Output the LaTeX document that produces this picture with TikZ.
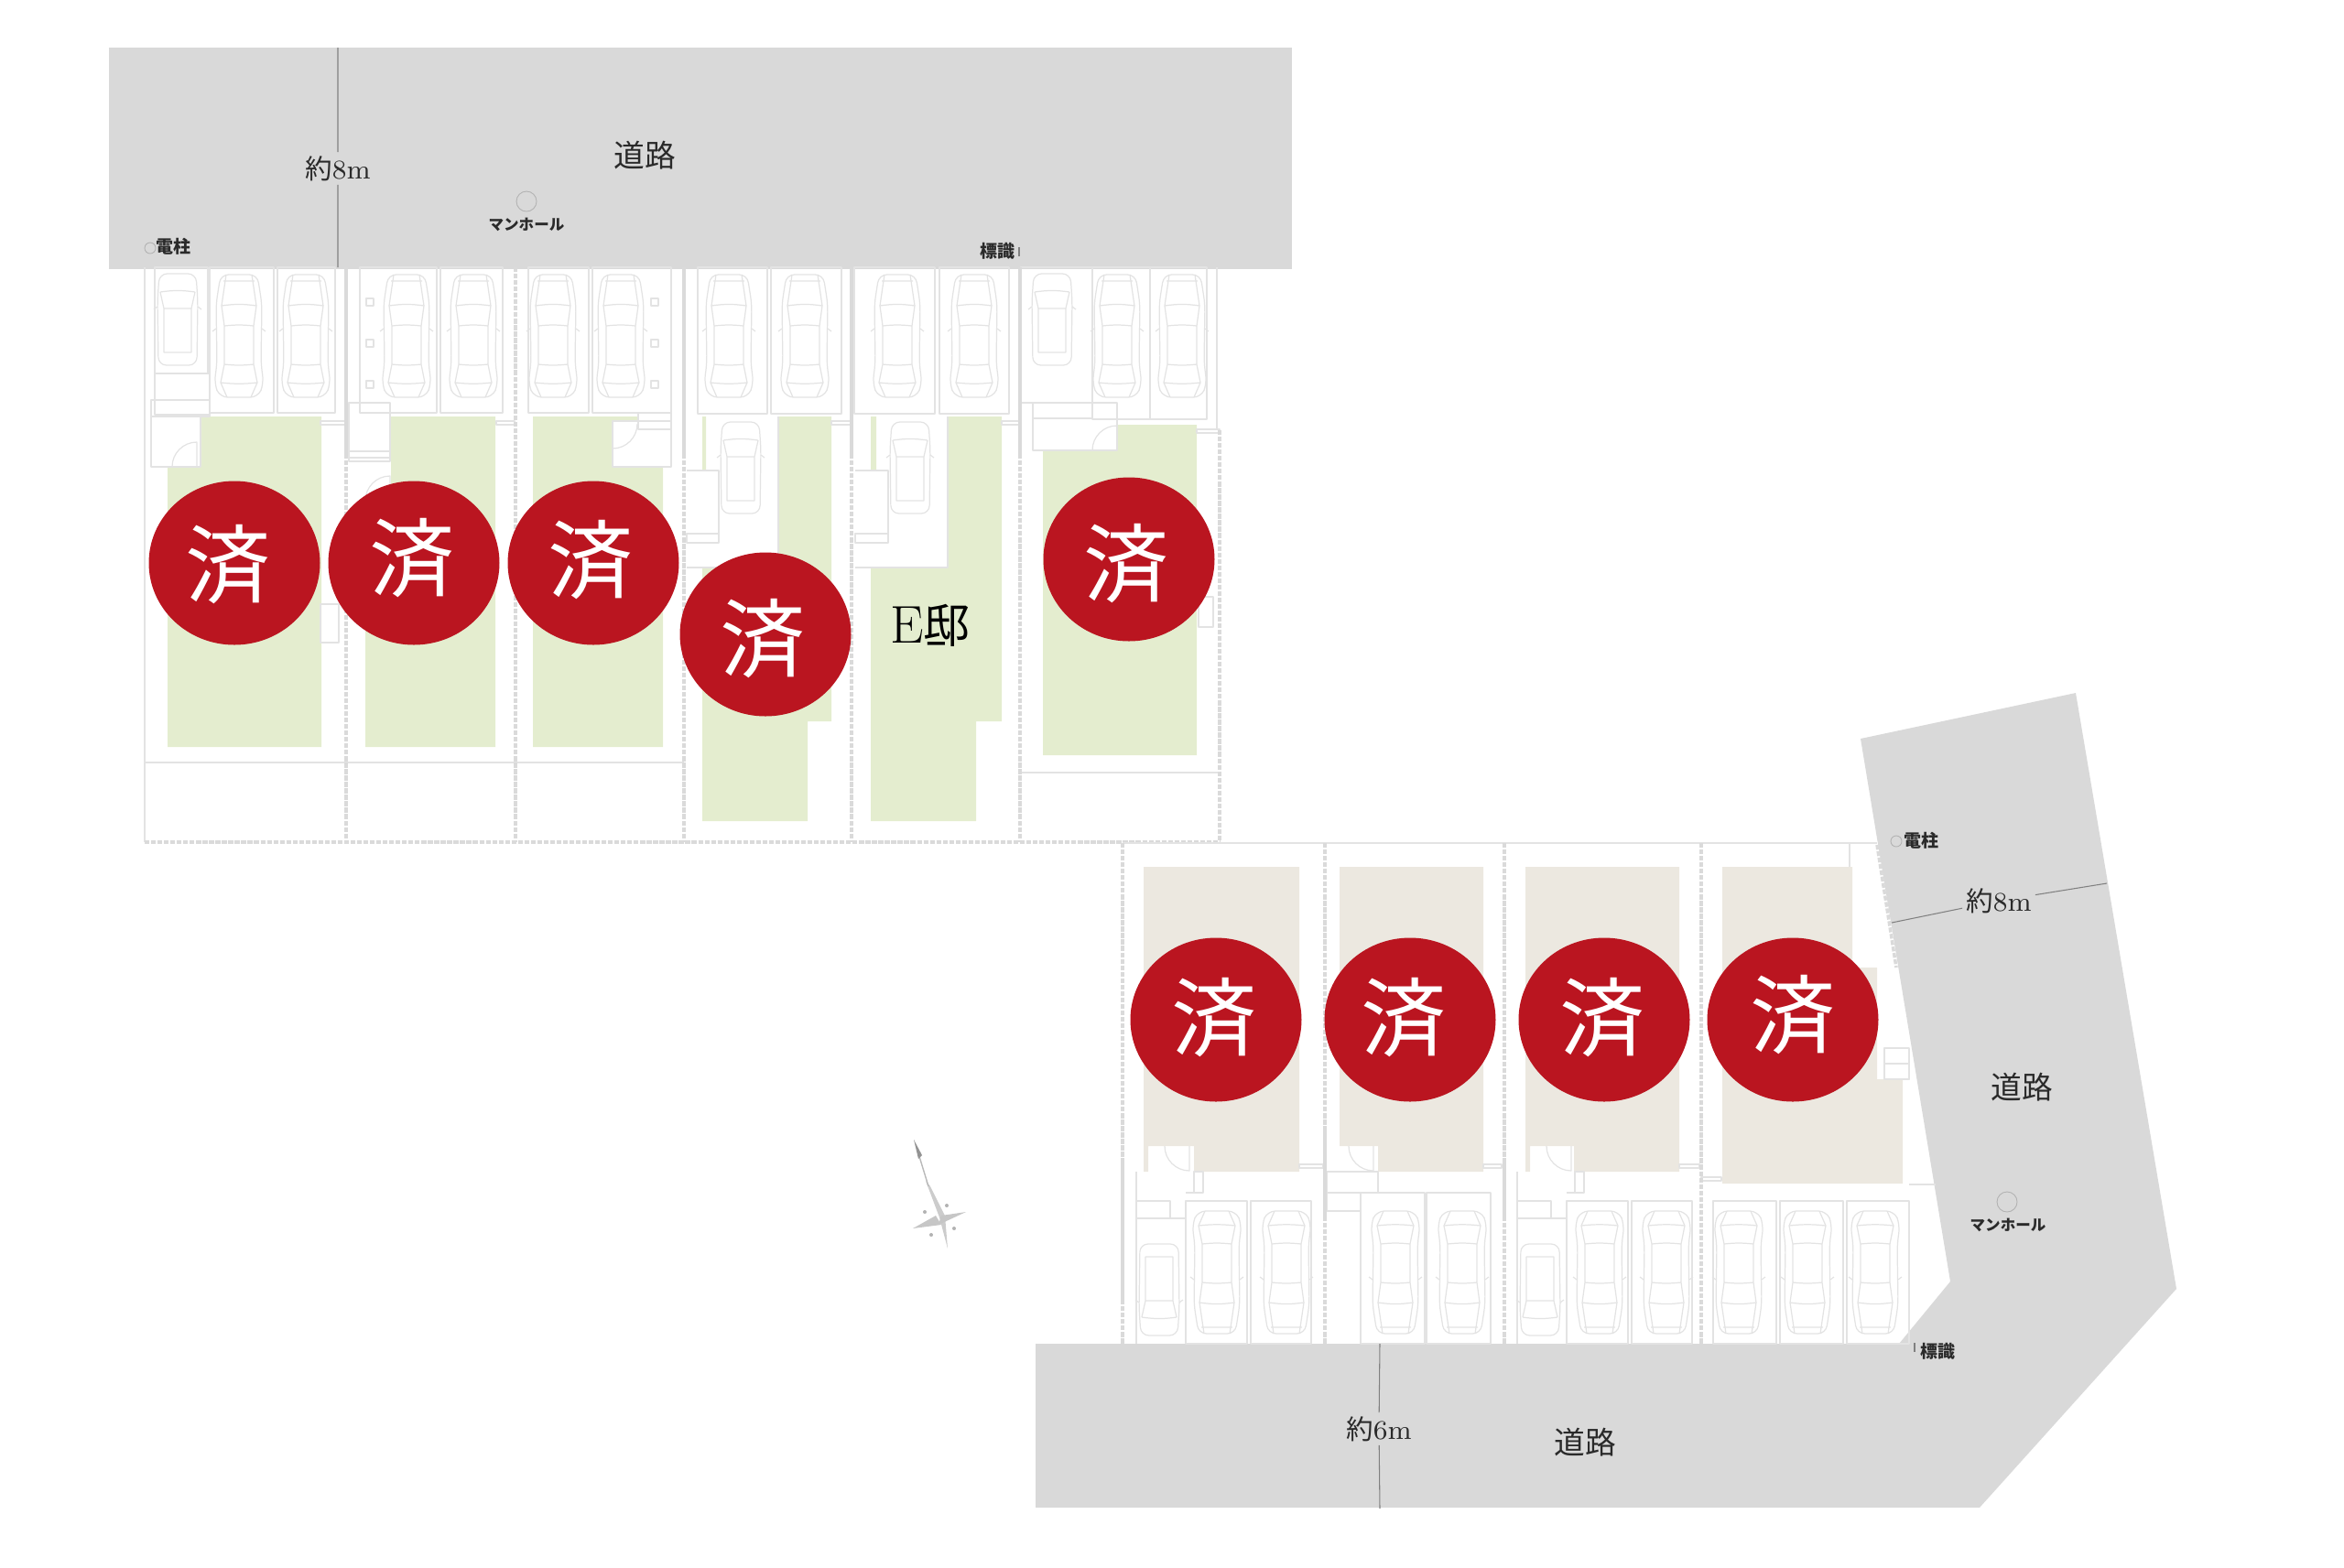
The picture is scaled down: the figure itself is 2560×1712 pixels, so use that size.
\documentclass[tikz,border=0pt]{standalone}
\usepackage{fontspec}
\usetikzlibrary{shapes.geometric}
\newfontfamily\cjk{Noto Sans CJK JP}
\definecolor{roadgray}{HTML}{D9D9D9}
\definecolor{lotgreen}{HTML}{E4EDCF}
\definecolor{lotbeige}{HTML}{ECE8E0}
\definecolor{soldred}{HTML}{BA1520}
\definecolor{planline}{HTML}{E3E3E3}
\definecolor{fenceline}{HTML}{DADADA}
\definecolor{inkgray}{HTML}{2A2A2A}
\tikzset{
  planstroke/.style={draw=planline,line width=.35pt},
  fence/.style={draw=fenceline,line width=1pt,dash pattern=on 1.5pt off .5pt},
  fencesolid/.style={draw=fenceline,line width=1pt},
  soldmark/.style={ellipse,fill=soldred,inner sep=0pt,minimum width=18.7mm,minimum height=17.9mm},
  soldglyph/.style={inner sep=0pt,text=white,font=\cjk\fontsize{26.5pt}{27pt}\selectfont},
  roadlabel/.style={inner sep=1pt,text=inkgray,font=\cjk\fontsize{9.6pt}{11pt}\selectfont},
  widthlabel/.style={fill=roadgray,inner sep=1pt,text=inkgray,font=\fontsize{8.4pt}{10pt}\selectfont},
  smalltag/.style={inner sep=0pt,text=inkgray,font=\cjk\bfseries\fontsize{5.4pt}{6pt}\selectfont},
  holetag/.style={smalltag,font=\cjk\bfseries\fontsize{4.7pt}{6pt}\selectfont},
  sedan/.pic={
    \draw[planstroke,rounded corners=2.5pt] (-20,-67)--(20,-67)--(25,-35)--(24,30)--(27,52)--(21,67)--(-21,67)--(-27,52)--(-24,30)--(-25,-35)--cycle;
    \draw[planstroke] (-14,-67)--(-19,-33)--(-16,-11)--(-16,31)--(-20,51)--(-13,67) (14,-67)--(19,-33)--(16,-11)--(16,31)--(20,51)--(13,67);
    \draw[planstroke] (-19,-33) to[bend left=8] (19,-33) (-16,-11) to[bend left=6] (16,-11) (-16,31) to[bend right=6] (16,31) (-20,51) to[bend right=6] (20,51);
    \draw[planstroke] (-25,-8)--(-29,-5) (25,-8)--(29,-5) (-17,-60)--(17,-60);
  },
  keicar/.pic={
    \draw[planstroke,rounded corners=2.5pt] (-20,-50)--(20,-50)--(22,-20)--(21,50)--(-21,50)--(-22,-20)--cycle;
    \draw[planstroke] (-19,-30) to[bend left=8] (19,-30) (-15,-12)--(15,-12)--(15,36)--(-15,36)--cycle (-15,-12)--(-19,-30) (15,-12)--(19,-30);
    \draw[planstroke] (-22,-14)--(-26,-11) (22,-14)--(26,-11);
  },
  doorleaf/.pic={
    \draw[planstroke] (0,0)--(0,-27) arc[start angle=270,end angle=180,radius=27];
  },
}
\begin{document}
\begin{tikzpicture}[x=.1mm,y=-.1mm,line join=round]
\useasboundingbox (0,0) rectangle (2560,1712);
% roads
\path
(119,52)coordinate(RA1)
(1411,294)coordinate(RA2)
(369,52)coordinate(WA1)
(369,292)coordinate(WA2)
(1507,1468)coordinate(WB1)
(1507,1648)coordinate(WB2)
(2066,1008)coordinate(WC1)
(2301,965)coordinate(WC2)
;
\fill[roadgray] (RA1) rectangle (RA2);
\fill[roadgray] (2032,807)--(2267,757)--(2377,1408)--(2162,1647)--(1131,1647)--(1131,1468)--(2074,1468)--(2130,1400)--cycle;
% upper lots
\fill[lotgreen] (219,455)--(351,455)--(351,816)--(183,816)--(183,510)--(219,510)--cycle;
\fill[lotgreen] (427,455)--(541,455)--(541,816)--(399,816)--(399,600)--(427,600)--cycle;
\fill[lotgreen] (582,455)--(697,455)--(697,460)--(669,460)--(669,510)--(724,510)--(724,816)--(582,816)--cycle;
\fill[lotgreen] (850,455)--(908,455)--(908,788)--(882,788)--(882,897)--(767,897)--(767,620)--(850,620)--cycle;
\fill[lotgreen] (1035,455)--(1094,455)--(1094,788)--(1066,788)--(1066,897)--(951,897)--(951,620)--(1035,620)--cycle;
\fill[lotgreen] (1220,464)--(1307,464)--(1307,825)--(1139,825)--(1139,492)--(1220,492)--cycle;
\fill[lotgreen] (767,455) rectangle (771,513) (951,455) rectangle (957,513);
\foreach \a/\b/\c/\d in {
169/292/227/408,169/408/229/453,229/292/299/451,303/292/366/451,165/437/229/455,165/455/219/510,
393/292/477/451,481/292/549/451,381/440/426/504,381/493/426/500,
577/292/643/451,647/292/733/451,669/460/733/510,697/451/733/469,
762/292/838/452,842/292/919/452,750/583/785/593,
933/292/1021/452,1026/292/1102/452,934/583/970/593,
1115/292/1193/440,1193/292/1256/458,1256/292/1318/458,1128/440/1220/492,1128/440/1193/457,
350/660/370/702,1309/652/1325/685,
350/460/378/464,542/460/562/464,908/460/929/464,1094/460/1113/464,1307/469/1332/473}
\draw[planstroke] (\a,\b) rectangle (\c,\d);
\foreach \y in {330,375,420} {
\draw[planstroke] (400,\y-4) rectangle (408,\y+4);
\draw[planstroke] (711,\y-4) rectangle (719,\y+4);
}
\draw[planstroke] (750,514)--(785,514)--(785,593) (750,620)--(850,620)--(850,455) (934,514)--(970,514)--(970,593) (934,620)--(1035,620)--(1035,455);
\draw[planstroke] (158,833)--(747,833) (1114,844)--(1332,844) (158,292)--(158,920);
\foreach \x in {378,563,747,930,1114} \draw[fence] (\x,292)--(\x,920);
\foreach \x in {378,747,930,1114} \draw[fencesolid] (\x,292)--(\x,500);
\draw[fence] (1332,470)--(1332,920);
\draw[planstroke] (1329,292)--(1329,470);
\draw[fence] (158,920)--(1332,920);
% lower lots
\fill[lotbeige] (1249,947)--(1419,947)--(1419,1280)--(1304,1280)--(1304,1252)--(1254,1252)--(1254,1280)--(1249,1280)--cycle;
\fill[lotbeige] (1463,947)--(1620,947)--(1620,1280)--(1505,1280)--(1505,1252)--(1463,1252)--cycle;
\fill[lotbeige] (1666,947)--(1834,947)--(1834,1280)--(1719,1280)--(1719,1252)--(1671,1252)--(1671,1280)--(1666,1280)--cycle;
\fill[lotbeige] (1881,947)--(2023,947)--(2023,1057)--(2050,1057)--(2050,1179)--(2078,1179)--(2078,1293)--(1881,1293)--cycle;
\foreach \a/\b/\c/\d in {
1295/1312/1362/1468,1366/1312/1432/1468,1241/1312/1278/1331,1304/1280/1314/1303,
1486/1303/1556/1468,1558/1303/1628/1468,1449/1280/1505/1303,1449/1303/1486/1323,
1711/1312/1778/1468,1782/1312/1848/1468,1657/1312/1694/1331,1720/1280/1730/1303,
1871/1312/1940/1468,1944/1312/2013/1468,2017/1312/2085/1468,2058/1145/2085/1179,2058/1162/2085/1179,
1419/1272/1445/1276,1620/1272/1640/1276,1834/1272/1856/1276,1858/1286/1880/1290}
\draw[planstroke] (\a,\b) rectangle (\c,\d);
\draw[planstroke] (1241,1280)--(1241,1468) (1241,1331)--(1295,1331) (1295,1303)--(1314,1303);
\draw[planstroke] (1657,1280)--(1657,1468) (1657,1331)--(1711,1331) (1711,1303)--(1730,1303);
\draw[planstroke] (1226,921)--(2050,921) (2020,921)--(2020,947) (2085,1294)--(2114,1294);
\foreach \x in {1226,1447,1643,1858} \draw[fence] (\x,921)--(\x,1468);
\draw[fencesolid] (1226,1270)--(1226,1425) (1447,1230)--(1447,1333) (1643,1270)--(1643,1330);
\draw[fence] (2050,923)--(2071,1057);
% parked cars
\foreach \x in {261,334,444,517,604,678,796,879,980,1064,1220,1291} \pic[shift={(\x,367)}]{sedan};
\foreach \x/\y in {194/349,1149/349,809/511,994/511} \pic[shift={(\x,\y)}]{keicar};
\foreach \x in {1329,1405,1524,1597,1747,1820,1899,1974,2048} \pic[shift={(\x,1390)},yscale=-1]{sedan};
\foreach \x in {1266,1682} \pic[shift={(\x,1409)},yscale=-1]{keicar};
% doors
\foreach \x/\y in {215/510,426/547,1220/492} \pic[shift={(\x,\y)}]{doorleaf};
\pic[shift={(669,463)},rotate=180]{doorleaf};
\foreach \x in {1299,1500,1716} \pic[shift={(\x,1252)},yscale=-1]{doorleaf};
% road marks
\node[widthlabel] (widthA) at (369,184) {{\cjk 約}8m};
\node[widthlabel] (widthB) at (1506,1561) {{\cjk 約}6m};
\node[widthlabel] (widthC) at (2183,984) {{\cjk 約}8m};
\draw[gray,line width=.3pt] (WA1)--(widthA) (widthA)--(WA2) (WB1)--(widthB) (widthB)--(WB2) (WC1)--(widthC) (widthC)--(WC2);
\node[roadlabel] (roadA) at (704,170) {道路};
\node[roadlabel] (roadB) at (2208,1188) {道路};
\node[roadlabel] (roadC) at (1731,1576) {道路};
\node[smalltag] (poleA) at (189,269) {電柱};
\node[smalltag] (poleB) at (2098,918) {電柱};
\node[holetag] (holeA) at (575,245) {マンホール};
\node[holetag] (holeB) at (2193,1338) {マンホール};
\node[smalltag] (signA) at (1089,274) {標識};
\node[smalltag] (signB) at (2116,1476) {標識};
\foreach \x/\y/\r in {164/271/6,2071/919/6,575/220/11,2192/1313/11} \draw[gray!60,line width=.25pt] (\x,\y) circle(\r);
\draw[gray,line width=.3pt] (1113,270)--(1113,280) (2091,1467)--(2091,1477);
% house labels
\node[text=black,inner sep=0pt,font=\fontsize{16.5pt}{18pt}\selectfont] (houseE) at (1016,683) {E{\cjk\fontsize{14.5pt}{16pt}\selectfont 邸}};
\foreach \n/\x/\y/\dx/\dy in {soldA/256/615/-7/2,soldB/452/615/-2/-5,soldC/648/615/-3/-3,soldD/836/693/-3/5,soldF/1233/611/-3/5,soldG/1328/1114/-2/-2,soldH/1540/1114/-7/-2,soldI/1752/1114/-2/-2,soldJ/1958/1114/0/-5} {
\node[soldmark] (\n) at (\x,\y) {};
\node[soldglyph] (\n text) at ([shift={(\dx,\dy)}]\n.center) {済};
}
% compass
\fill[gray!40] (1016,1296)--(1011,1290)--(1026,1330)--(1035,1364)--(1032,1328)--cycle;
\draw[gray!55,line width=.4pt] (1003,1260)--(1014,1296);
\fill[gray!45] (997,1342)--(1022,1328)--(1028,1338)--cycle;
\fill[gray!45] (1055,1324)--(1028,1328)--(1025,1338)--cycle;
\fill[gray!85] (998,1245)--(1007,1262)--(1003,1266)--cycle;
\foreach \x/\y in {1010/1324,1034/1317,1042/1342,1017/1349} \fill[gray!60] (\x,\y) circle(2);
\end{tikzpicture}
\end{document}
